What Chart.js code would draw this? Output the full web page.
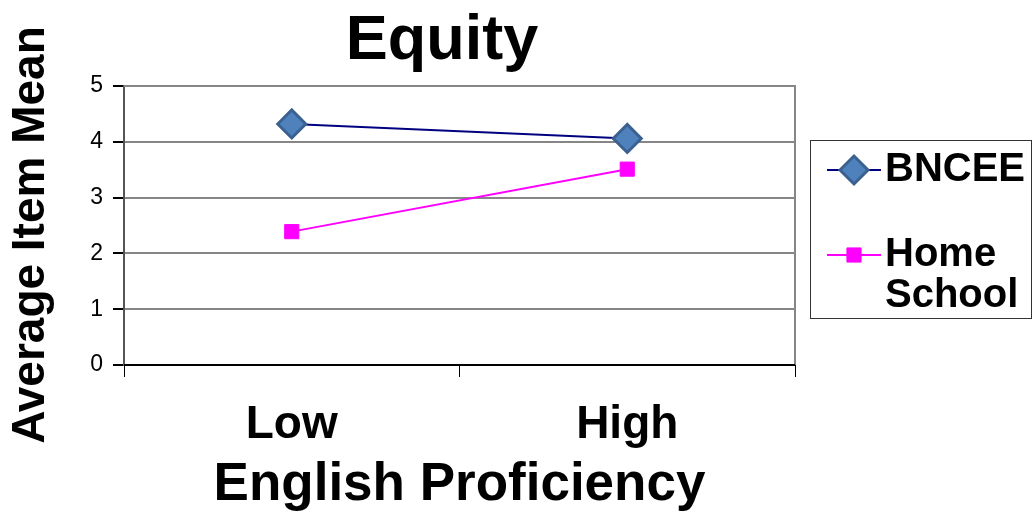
<!DOCTYPE html>
<html>
<head>
<meta charset="utf-8">
<script src="https://cdn.jsdelivr.net/npm/chart.js@4/dist/chart.umd.min.js"></script>
<style>
  html, body { margin: 0; padding: 0; background: #fff; }
  #wrap { width: 1033px; height: 517px; }
</style>
</head>
<body>
<div id="wrap"><canvas id="chart"></canvas></div>
<script>
const categories = ['Low', 'High'];
const seriesNames = ['BNCEE', 'Home School'];
const bnceeValues = [4.32, 4.06];
const homeSchoolValues = [2.39, 3.51];
const yTicks = [0, 1, 2, 3, 4, 5];
const chartTitle = 'Equity';
const yTitle = 'Average Item Mean';

const FONT = 'Arial, "Liberation Sans", sans-serif';

// frame round the plot area
const framePlugin = {
    id: 'frame',
    beforeDatasetsDraw(chart) {
        const { ctx, chartArea: a } = chart;
        ctx.save();
        ctx.strokeStyle = '#868686';
        ctx.lineWidth = 2;
        ctx.beginPath();
        ctx.moveTo(a.left, a.top);
        ctx.lineTo(a.right, a.top);
        ctx.lineTo(a.right, a.bottom);
        ctx.stroke();
        ctx.strokeStyle = '#000';
        ctx.beginPath();
        ctx.moveTo(a.left, a.bottom);
        ctx.lineTo(a.right, a.bottom);
        ctx.stroke();
        ctx.restore();
    }
};

// chart title and y title, placed like the original (not centred on the plot)
const titles = {
    id: 'titles',
    afterDraw(chart) {
        const ctx = chart.ctx;
        ctx.save();
        ctx.fillStyle = '#000';
        ctx.textAlign = 'center';
        ctx.textBaseline = 'middle';
        ctx.font = 'bold 63px ' + FONT;
        ctx.fillText(chartTitle, 442, 42);
        ctx.translate(31, 235);
        ctx.rotate(-Math.PI / 2);
        ctx.font = 'bold 46px ' + FONT;
        ctx.fillText(yTitle, 0, 0);
        ctx.restore();
    }
};

// boxed legend on the right, labels broken on spaces
const boxLegend = {
    id: 'boxLegend',
    afterDraw(chart) {
        const ctx = chart.ctx;
        ctx.save();
        ctx.strokeStyle = '#333';
        ctx.lineWidth = 1;
        ctx.strokeRect(810.5, 140.5, 221, 178);
        const rows = [170, 255];
        chart.data.datasets.forEach((ds, i) => {
            const y = rows[i];
            ctx.strokeStyle = ds.borderColor;
            ctx.lineWidth = 2;
            ctx.beginPath();
            ctx.moveTo(827, y);
            ctx.lineTo(881, y);
            ctx.stroke();
            ctx.fillStyle = ds.pointBackgroundColor;
            ctx.strokeStyle = ds.pointBorderColor;
            ctx.lineWidth = ds.pointBorderWidth;
            Chart.helpers.drawPoint(ctx, {
                pointStyle: ds.pointStyle,
                radius: ds.pointRadius,
                borderWidth: ds.pointBorderWidth
            }, 854, y);
            ctx.fillStyle = '#000';
            ctx.font = 'bold 40px ' + FONT;
            ctx.textBaseline = 'middle';
            ctx.textAlign = 'left';
            ds.label.split(' ').forEach((line, j) => {
                ctx.fillText(line, 885, y + j * 41);
            });
        });
        ctx.restore();
    }
};

new Chart(document.getElementById('chart'), {
    type: 'line',
    data: {
        labels: categories,
        datasets: [{
            label: seriesNames[0],
            data: bnceeValues,
            borderColor: '#000080',
            borderWidth: 2,
            pointStyle: 'rectRot',
            pointRadius: 14,
            pointBorderWidth: 3,
            pointBackgroundColor: '#4f81bd',
            pointBorderColor: '#3b6190',
        }, {
            label: seriesNames[1],
            data: homeSchoolValues,
            borderColor: '#ff00ff',
            borderWidth: 2,
            pointStyle: 'rect',
            pointRadius: 10,
            pointBorderWidth: 1,
            pointBackgroundColor: '#ff00ff',
            pointBorderColor: '#ff00ff',
        }]
    },
    options: {
        responsive: true,
        maintainAspectRatio: false,
        animation: false,
        layout: { padding: { left: 0, right: 238, top: 86, bottom: 0 } },
        plugins: {
            legend: { display: false },
            tooltip: { enabled: false },
            title: { display: false }
        },
        scales: {
            x: {
                offset: true,
                grid: {
                    offset: true,
                    drawOnChartArea: false,
                    drawTicks: true,
                    tickLength: 12,
                    color: '#000'
                },
                border: { display: false },
                ticks: {
                    color: '#000',
                    padding: 21,
                    font: { family: FONT, size: 46, weight: 'bold' }
                },
                title: {
                    display: true,
                    text: 'English Proficiency',
                    color: '#000',
                    font: { family: FONT, size: 53, weight: 'bold', lineHeight: 1 },
                    padding: { top: 0, bottom: 5 }
                },
                afterFit(scale) { scale.height = 152; }
            },
            y: {
                min: 0,
                max: 5,
                afterBuildTicks(scale) { scale.ticks = yTicks.map(v => ({ value: v })); },
                grid: {
                    color: '#868686',
                    lineWidth: 2,
                    tickLength: 11,
                    tickColor: '#000'
                },
                border: { display: true, color: '#555', width: 2 },
                ticks: {
                    color: '#000',
                    padding: 10,
                    font: { family: FONT, size: 23 }
                },
                afterFit(scale) { scale.width = 124; }
            }
        }
    },
    plugins: [framePlugin, titles, boxLegend]
});
</script>
</body>
</html>
